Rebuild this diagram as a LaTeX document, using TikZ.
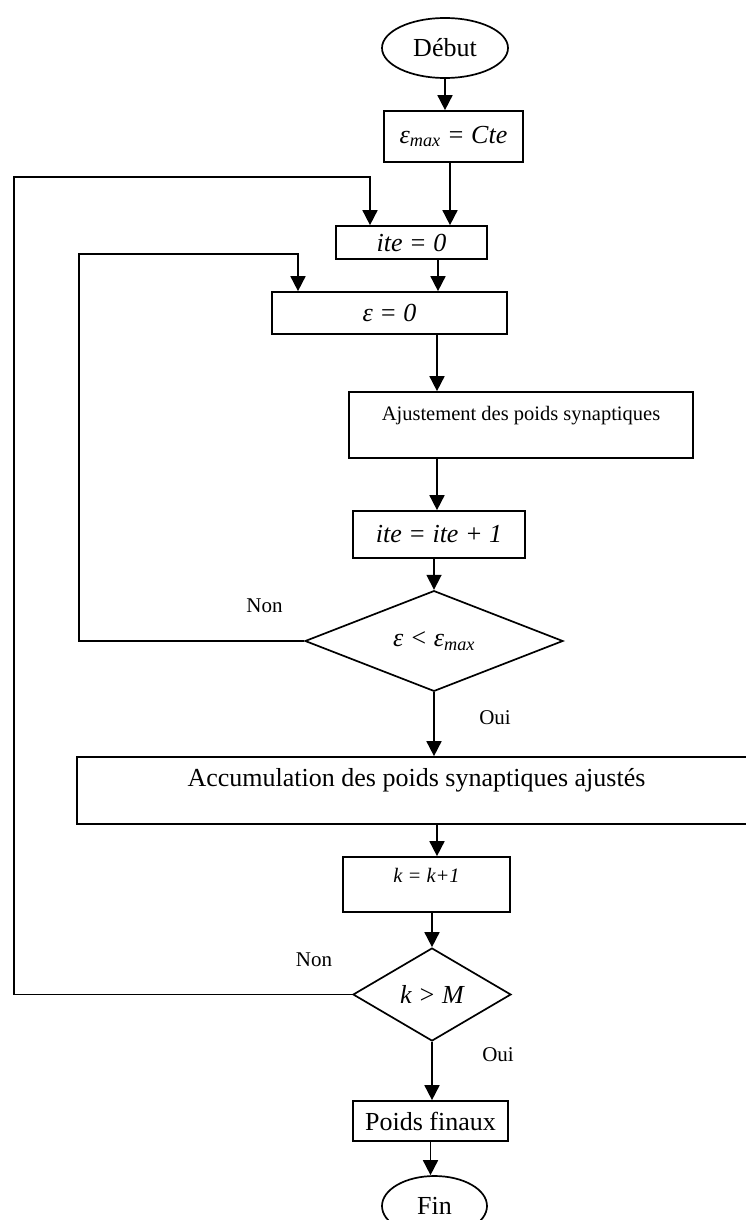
\documentclass[tikz,border=0pt]{standalone}
\usepackage{fontspec}
\setmainfont{Liberation Serif}
\usetikzlibrary{shapes.geometric,arrows.meta}

\begin{document}
\begin{tikzpicture}[x=1pt,y=-1pt,
  every node/.style={font=\fontsize{26}{30}\selectfont},
  procbox/.style={draw, rectangle, line width=1.7pt, inner sep=0pt},
  testbox/.style={draw, diamond, line width=1.7pt, inner sep=0pt, miter limit=20},
  termbox/.style={draw, ellipse, line width=1.7pt, inner sep=0pt},
  small/.style={font=\fontsize{20.5}{24}\selectfont},
  tag/.style={font=\fontsize{21}{24}\selectfont, inner sep=0pt},
  arr/.style={line width=1.7pt, -{Triangle[length=15pt,width=15pt]}},
  loopline/.style={line width=1.7pt, -{Triangle[length=15pt,width=15pt]}}
]
\useasboundingbox (0,0) rectangle (746,1220);

% terminals
\node[termbox, minimum width=126, minimum height=60] (debut) at (445,48) {Début};
\node[termbox, minimum width=105, minimum height=60] (fin) at (434.5,1206) {Fin};

% process boxes
\node[procbox, minimum width=139, minimum height=51] (emax) at (453.5,136.5)
  {\itshape ε\textsubscript{max} = Cte};
\node[procbox, minimum width=151, minimum height=33] (ite0) at (411.5,242.5)
  {\itshape ite = 0};
\node[procbox, minimum width=235, minimum height=42] (eps0) at (389.5,313)
  {\itshape ε = 0};
\node[procbox, small, minimum width=344, text height=28pt, text depth=38pt] (ajust) at (521,425)
  {Ajustement des poids synaptiques};
\node[procbox, minimum width=172, minimum height=47] (ite1) at (439,534.5)
  {\itshape ite = ite + 1};
\node[procbox, minimum width=679, text height=29pt, text depth=38pt] (accum) at (416.5,790.5)
  {Accumulation des poids synaptiques ajustés};
\node[procbox, small, minimum width=167, text height=25pt, text depth=30pt] (kk) at (426.5,884.5)
  {\itshape k = k+1};
\node[procbox, minimum width=155, minimum height=40] (pf) at (430.5,1121)
  {Poids finaux};

% decisions
\node[testbox, minimum width=258, minimum height=98] (d1) at (434,641)
  {\itshape ε < ε\textsubscript{max}};
\node[testbox, minimum width=158, minimum height=93] (d2) at (432,994.5)
  {\itshape k > M};

% branch labels
\node[tag] (non1) at (264.5,606) {Non};
\node[tag] (oui1) at (495,718) {Oui};
\node[tag] (non2) at (314,960) {Non};
\node[tag] (oui2) at (498,1055) {Oui};

% main flow
\draw[arr] (debut.south) -- (debut.south |- emax.north);
\draw[arr] ([xshift=-3.5pt]emax.south) -- ([xshift=-3.5pt]emax.south |- ite0.north);
\draw[arr] ([xshift=26.5pt]ite0.south) -- ([xshift=26.5pt]ite0.south |- eps0.north);
\draw[arr] ([xshift=47.5pt]eps0.south) -- ([xshift=47.5pt]eps0.south |- ajust.north);
\draw[arr] ([xshift=-84pt]ajust.south) -- ([xshift=-84pt]ajust.south |- ite1.north);
\draw[arr] (ite1.south -| d1.north) -- (d1.north);
\draw[arr] (d1.south) -- (d1.south |- accum.north);
\draw[arr] ([xshift=20.5pt]accum.south) -- ([xshift=20.5pt]accum.south |- kk.north);
\draw[arr] (kk.south -| d2.north) -- (d2.north);
\draw[arr] (d2.south) -- (d2.south |- pf.north);
\draw[arr] (pf.south) -- (pf.south |- fin.north);

% loop back: epsilon not below threshold
\coordinate (iloop) at (79,254);
\coordinate (iturn) at (298,254);
\draw[loopline] (d1.west) -| (iloop) -- (iturn) -- (iturn |- eps0.north);

% loop back: k not above M
\coordinate (oloop) at (14,177);
\coordinate (oturn) at (370,177);
\draw[loopline] (d2.west) -| (oloop) -- (oturn) -- (oturn |- ite0.north);
\end{tikzpicture}
\end{document}
